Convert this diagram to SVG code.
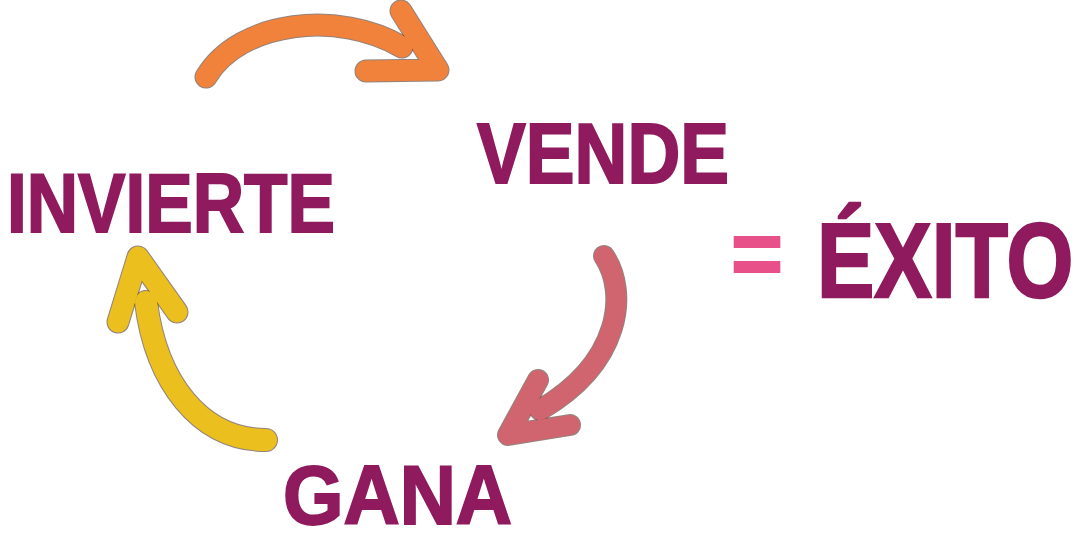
<svg xmlns="http://www.w3.org/2000/svg" width="1087" height="545" viewBox="0 0 1087 545">
<style>
.w{font-family:"Liberation Sans",Arial,sans-serif;font-weight:bold;fill:#8f1a5d;stroke:#8f1a5d;stroke-width:2}
.o{fill:none;stroke:#3a1d12;stroke-linecap:round;stroke-linejoin:round;stroke-opacity:0.55}
.a{fill:none;stroke-linecap:round;stroke-linejoin:round}
</style>
<rect width="1087" height="545" fill="#ffffff"/>
<g id="connectors">
<g id="arrow-orange">
<path class="o" stroke-width="23" d="M206,77 C240,20 340,10 402,47"/>
<path class="o" stroke-width="23" d="M401,11 L438,70 L366,71"/>
<path class="a" stroke="#f0823b" stroke-width="21" d="M206,77 C240,20 340,10 402,47"/>
<path class="a" stroke="#f0823b" stroke-width="21" d="M401,11 L438,70 L366,71"/>
</g>
<g id="arrow-pink">
<path class="o" stroke-width="22" d="M604,256 C628,292 622,362 540,410"/>
<path class="o" stroke-width="22" d="M538,380 L508,435 L570,425"/>
<path class="a" stroke="#d06570" stroke-width="20" d="M604,256 C628,292 622,362 540,410"/>
<path class="a" stroke="#d06570" stroke-width="20" d="M538,380 L508,435 L570,425"/>
</g>
<g id="arrow-yellow">
<path class="o" stroke-width="24" d="M146,302 C156,382 200,440 266,440"/>
<path class="o" stroke-width="23" d="M118,322 L138,257 L177,312"/>
<path class="a" stroke="#ebbf1e" stroke-width="22" d="M146,302 C156,382 200,440 266,440"/>
<path class="a" stroke="#ebbf1e" stroke-width="21" d="M118,322 L138,257 L177,312"/>
</g>
</g>
<g id="node-invierte"><text class="w" x="7" y="232" font-size="84" textLength="328" lengthAdjust="spacingAndGlyphs">INVIERTE</text></g>
<g id="node-vende"><text class="w" x="477" y="183" font-size="85" textLength="252" lengthAdjust="spacingAndGlyphs">VENDE</text></g>
<g id="node-gana"><text class="w" x="283" y="524" font-size="83" textLength="229" lengthAdjust="spacingAndGlyphs">GANA</text></g>
<g id="node-exito">
<text x="731" y="285" font-family="Liberation Sans,Arial,sans-serif" font-weight="bold" font-size="92" fill="#e8508a" stroke="#e8508a" stroke-width="2" textLength="52" lengthAdjust="spacingAndGlyphs">=</text>
<g transform="translate(817,297) scale(1,1.22)">
<text class="w" x="0" y="0" font-size="86">ÉXITO</text>
</g>
</g>
</svg>
